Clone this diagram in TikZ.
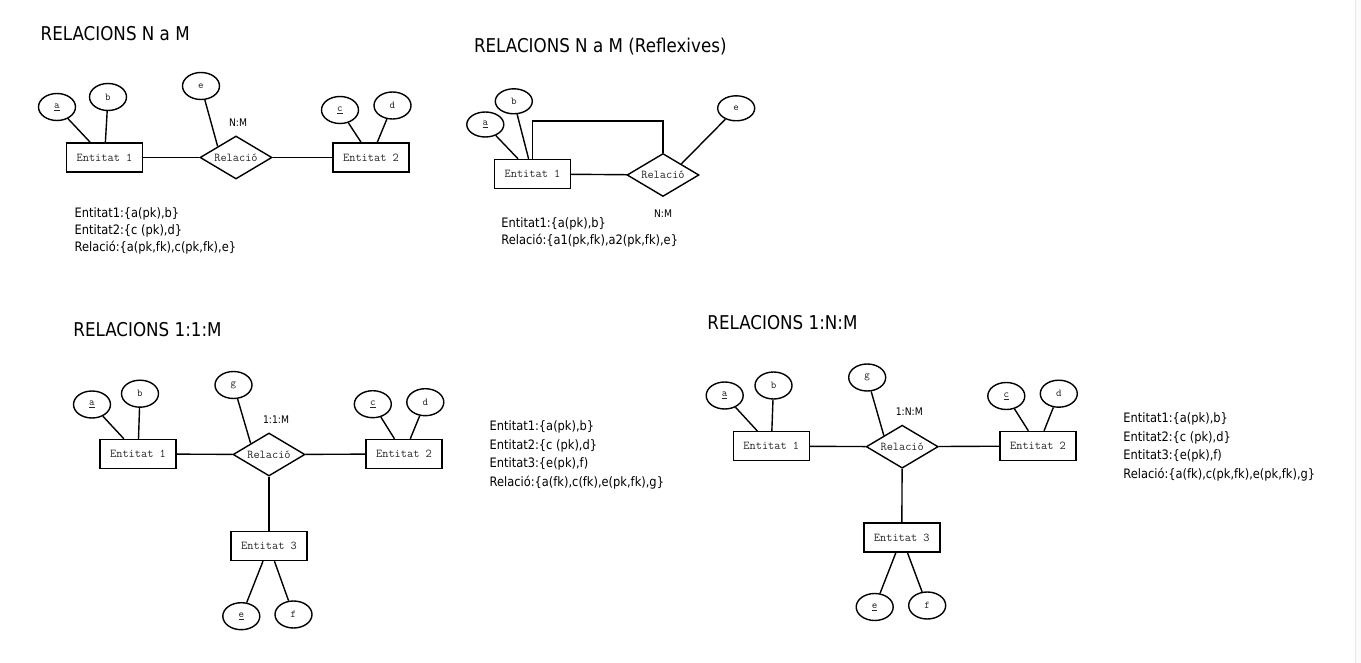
\documentclass[tikz,border=0pt]{standalone}
\usepackage{fontspec}
\usepackage{tikz}
\usetikzlibrary{shapes.geometric}
\newfontfamily\tahoma[FakeStretch=0.88]{DejaVu Sans}

\tikzset{
  entitat/.style={draw, rectangle, minimum width=76pt, minimum height=29pt, inner sep=0pt, text=black!85, font=\ttfamily\fontsize{12}{12}\selectfont},
  relacio/.style={draw, diamond, shape aspect=1.67, minimum width=72pt, minimum height=43pt, inner sep=0pt, text=black!85, font=\ttfamily\fontsize{12}{12}\selectfont},
  atribut/.style={draw, ellipse, minimum width=37pt, minimum height=27pt, inner sep=0pt, text=black!85, font=\ttfamily\fontsize{10.5}{11}\selectfont},
  card/.style={inner sep=0pt, font=\tahoma\fontsize{10.5}{11}\selectfont},
  titol/.style={anchor=base west, inner sep=0pt, font=\tahoma\fontsize{19}{20}\selectfont},
  esquema/.style={anchor=north west, inner sep=0pt, align=left, font=\tahoma\fontsize{13}{17}\selectfont},
}

\begin{document}
\begin{tikzpicture}[x=1pt, y=-1pt, line width=1.4pt]
    %\draw[very thin,color=gray] (0,0) grid[step=50] (1361,663);
    \useasboundingbox (0,0) rectangle (1361,663);
    \fill[gray!3] (1355,0) rectangle (1361,663);
    \draw[gray!18, line width=0.8pt] (1355,0) -- (1355,663);

    % RELACIONS N a M
    \node[titol] (t1) at (40,40.7) {RELACIONS N a M};
    \node[entitat] (d1e1) at (104.5,157.5) {Entitat 1};
    \node[relacio] (d1rel) at (236,157.5) {Relació};
    \node[entitat] (d1e2) at (371,157.5) {Entitat 2};
    \node[atribut] (d1a) at (57,107) {\underline{a}};
    \node[atribut] (d1b) at (108,97) {b};
    \node[atribut] (d1e) at (201,86) {e};
    \node[atribut] (d1c) at (340,110) {\underline{c}};
    \node[atribut] (d1d) at (392.5,105.5) {d};
    \node[card] (d1card) at (238,123) {N:M};
    \draw (d1a) -- (d1e1);
    \draw (d1b) -- (d1e1);
    \draw (d1c) -- (d1e2);
    \draw (d1d) -- (d1e2);
    \draw (d1e) -- (d1rel.north west);
    \draw (d1e1) -- (d1rel);
    \draw (d1rel) -- (d1e2);
    \node[esquema] (d1text) at (74,207) {Entitat1:\{a(pk),b\}\\Entitat2:\{c (pk),d\}\\Relació:\{a(pk,fk),c(pk,fk),e\}};

    % RELACIONS N a M (Reflexives)
    \node[titol] (t2) at (473.3,52.7) {RELACIONS N a M (Reflexives)};
    \node[entitat] (d2e1) at (532.5,174) {Entitat 1};
    \node[relacio] (d2rel) at (663,175) {Relació};
    \node[atribut, minimum height=25pt] (d2a) at (485.3,124.5) {\underline{a}};
    \node[atribut, minimum height=25pt] (d2b) at (513.8,101.3) {b};
    \node[atribut, minimum height=25pt] (d2e) at (736.2,108.3) {e};
    \node[card] (d2card) at (663,214) {N:M};
    \draw (d2a) -- (d2e1);
    \draw (d2b) -- (d2e1);
    \draw (d2e) -- (d2rel.north east);
    \draw (d2e1) -- (d2rel);
    \draw (d2e1.north) -- ++(0,-37.7) -| (d2rel.north);
    \node[esquema] (d2text) at (500.7,217) {Entitat1:\{a(pk),b\}\\Relació:\{a1(pk,fk),a2(pk,fk),e\}};

    % RELACIONS 1:1:M
    \node[titol] (t3) at (72.7,336.7) {RELACIONS 1:1:M};
    \node[entitat] (d3e1) at (138,454) {Entitat 1};
    \node[relacio] (d3rel) at (269,454.5) {Relació};
    \node[entitat] (d3e2) at (404,454) {Entitat 2};
    \node[entitat] (d3e3) at (269,546) {Entitat 3};
    \node[atribut] (d3a) at (92,404.5) {\underline{a}};
    \node[atribut] (d3b) at (140,393.7) {b};
    \node[atribut] (d3g) at (233.5,385) {g};
    \node[atribut] (d3c) at (372.8,404.2) {\underline{c}};
    \node[atribut] (d3d) at (425.3,402.2) {d};
    \node[atribut] (d3ee) at (241.3,616.2) {\underline{e}};
    \node[atribut] (d3f) at (293.5,614.5) {f};
    \node[card] (d3card) at (276,420) {1:1:M};
    \draw (d3a) -- (d3e1);
    \draw (d3b) -- (d3e1);
    \draw (d3c) -- (d3e2);
    \draw (d3d) -- (d3e2);
    \draw (d3e3) -- (d3ee);
    \draw (d3e3) -- (d3f);
    \draw (d3g) -- (d3rel.north west);
    \draw (d3e1) -- (d3rel);
    \draw (d3rel) -- (d3e2);
    \draw (d3rel) -- (d3e3);
    \node[esquema, font=\tahoma\fontsize{13}{18.5}\selectfont] (d3text) at (489,420) {Entitat1:\{a(pk),b\}\\Entitat2:\{c (pk),d\}\\Entitat3:\{e(pk),f)\\Relació:\{a(fk),c(fk),e(pk,fk),g\}};

    % RELACIONS 1:N:M
    \node[titol] (t4) at (706.7,329.3) {RELACIONS 1:N:M};
    \node[entitat] (d4e1) at (771.3,446.2) {Entitat 1};
    \node[relacio] (d4rel) at (902.2,446.7) {Relació};
    \node[entitat] (d4e2) at (1038,446) {Entitat 2};
    \node[entitat] (d4e3) at (901.8,537.5) {Entitat 3};
    \node[atribut] (d4a) at (724.7,395.5) {\underline{a}};
    \node[atribut] (d4b) at (773.5,385.5) {b};
    \node[atribut] (d4g) at (867.2,377.5) {g};
    \node[atribut] (d4c) at (1006.3,396) {\underline{c}};
    \node[atribut] (d4d) at (1058.8,393.7) {d};
    \node[atribut] (d4ee) at (874.7,607) {\underline{e}};
    \node[atribut] (d4f) at (927.2,605.5) {f};
    \node[card] (d4card) at (909.3,411.7) {1:N:M};
    \draw (d4a) -- (d4e1);
    \draw (d4b) -- (d4e1);
    \draw (d4c) -- (d4e2);
    \draw (d4d) -- (d4e2);
    \draw (d4e3) -- (d4ee);
    \draw (d4e3) -- (d4f);
    \draw (d4g) -- (d4rel.north west);
    \draw (d4e1) -- (d4rel);
    \draw (d4rel) -- (d4e2);
    \draw (d4rel) -- (d4e3);
    \node[esquema, font=\tahoma\fontsize{13}{18.5}\selectfont] (d4text) at (1122.7,412) {Entitat1:\{a(pk),b\}\\Entitat2:\{c (pk),d\}\\Entitat3:\{e(pk),f)\\Relació:\{a(fk),c(pk,fk),e(pk,fk),g\}};
\end{tikzpicture}
\end{document}
